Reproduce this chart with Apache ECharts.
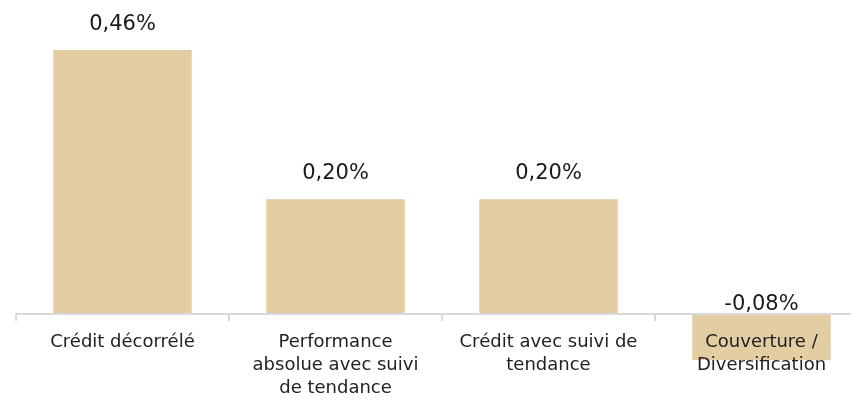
<!DOCTYPE html>
<html><head><meta charset="utf-8">
<script src="https://cdn.jsdelivr.net/npm/echarts@6/dist/echarts.min.js"></script>
<style>html,body{margin:0;padding:0;background:#fff}#c{width:851px;height:402px}</style>
</head><body><div id="c"></div>
<script>
const categories = ["Crédit décorrélé", "Performance\nabsolue avec suivi\nde tendance", "Crédit avec suivi de\ntendance", "Couverture /\nDiversification"];
const values = [0.46, 0.20, 0.20, -0.08];
const valueLabels = ["0,46%", "0,20%", "0,20%", "-0,08%"];

const FONT = "DejaVu Sans";
const chart = echarts.init(document.getElementById('c'), null, {renderer: 'canvas'});
chart.setOption({
  animation: false,
  backgroundColor: '#ffffff',
  grid: {left: 16, right: -17, top: 27, bottom: 88, containLabel: false, outerBoundsMode: 'none'},
  xAxis: {
    type: 'category', data: categories, z: 10,
    axisLine: {show: true, lineStyle: {color: '#d9d9d9', width: 2}},
    axisTick: {show: true, length: 7, lineStyle: {color: '#d9d9d9', width: 2}},
    axisLabel: {interval: 0, color: '#222222', fontFamily: FONT, fontSize: 18, lineHeight: 23, margin: 17, align: 'center'}
  },
  yAxis: {type: 'value', min: 0, max: 0.5, show: false, splitLine: {show: false}},
  series: [{
    type: 'bar', data: values.map((v, i) => i === 3 ? {value: v, label: {position: 'top', distance: -1}} : v),
    barCategoryGap: '35%', clip: false,
    itemStyle: {color: '#E3CDA2'},
    label: {show: true, position: 'top', distance: 15, color: '#1a1a1a', fontFamily: FONT, fontSize: 21,
      formatter: p => valueLabels[p.dataIndex]}
  }]
});
</script></body></html>
